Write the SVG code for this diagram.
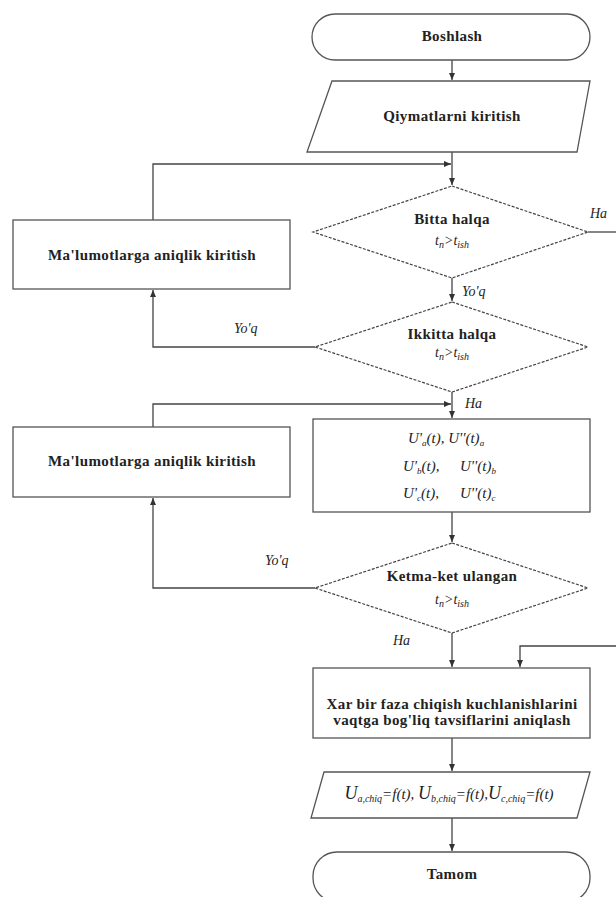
<svg xmlns="http://www.w3.org/2000/svg" width="616" height="897" viewBox="0 0 616 897">
<defs>
<marker id="ah" markerWidth="8" markerHeight="8" refX="7" refY="4" orient="auto" markerUnits="userSpaceOnUse">
<path d="M0,1 L7,4 L0,7 Z" fill="#333"/>
</marker>
<style>
.box{fill:#fff;stroke:#555;stroke-width:1.3}
.dia{fill:#fff;stroke:#444;stroke-width:1.2;stroke-dasharray:3 1.5}
.ln{fill:none;stroke:#444;stroke-width:1.3}
.t{font-family:"Liberation Serif",serif;font-weight:bold;font-size:15px;letter-spacing:0.4px;fill:#222;text-anchor:middle}
.it{font-family:"Liberation Serif",serif;font-style:italic;font-size:14px;fill:#222}
.m{font-family:"Liberation Serif",serif;font-style:italic;font-size:15px;fill:#222}
.c{font-family:"Liberation Serif",serif;font-style:italic;font-size:14px;fill:#222;text-anchor:middle}
</style>
</defs>
<rect width="616" height="897" fill="#fff"/>

<g id="connectors">
<path class="ln" d="M452,60 V80" marker-end="url(#ah)"/>
<path class="ln" d="M452,152 V185" marker-end="url(#ah)"/>
<path class="ln" d="M153,220 V164 H451" marker-end="url(#ah)"/>
<path class="ln" d="M452,278 V301" marker-end="url(#ah)"/>
<path class="ln" d="M588,232 H616"/>
<path class="ln" d="M315,347 H153 V290" marker-end="url(#ah)"/>
<path class="ln" d="M452,392 V418" marker-end="url(#ah)"/>
<path class="ln" d="M153,427 V404 H451" marker-end="url(#ah)"/>
<path class="ln" d="M452,512 V542" marker-end="url(#ah)"/>
<path class="ln" d="M315,588 H153 V498" marker-end="url(#ah)"/>
<path class="ln" d="M452,633 V667" marker-end="url(#ah)"/>
<path class="ln" d="M616,646 H520 V667" marker-end="url(#ah)"/>
<path class="ln" d="M452,738 V771" marker-end="url(#ah)"/>
<path class="ln" d="M452,818 V851" marker-end="url(#ah)"/>
<text class="it" x="590" y="218">Ha</text>
<text class="it" x="462" y="296">Yo'q</text>
<text class="it" x="234" y="333">Yo'q</text>
<text class="it" x="465" y="408">Ha</text>
<text class="it" x="265" y="565">Yo'q</text>
<text class="it" x="393" y="645">Ha</text>
</g>

<g id="start">
<rect class="box" x="312" y="14" width="278" height="46" rx="23"/>
<text class="t" x="452" y="41">Boshlash</text>
</g>

<g id="input">
<polygon class="box" points="332,81 590,81 577,152 307,152"/>
<text class="t" x="452" y="121">Qiymatlarni kiritish</text>
</g>

<g id="cond1">
<polygon class="dia" points="452,186 588,232 452,278 313,232"/>
<text class="t" x="452" y="224">Bitta halqa</text>
<text class="c" x="452" y="245">t<tspan font-size="10" dy="3">n</tspan><tspan dy="-3">&gt;t</tspan><tspan font-size="10" dy="3">ish</tspan></text>
</g>

<g id="fix1">
<rect class="box" x="13" y="220" width="277" height="69"/>
<text class="t" x="152" y="260">Ma'lumotlarga aniqlik kiritish</text>
</g>

<g id="cond2">
<polygon class="dia" points="452,302 588,347 452,392 315,347"/>
<text class="t" x="452" y="339">Ikkitta halqa</text>
<text class="c" x="452" y="357">t<tspan font-size="10" dy="3">n</tspan><tspan dy="-3">&gt;t</tspan><tspan font-size="10" dy="3">ish</tspan></text>
</g>

<g id="values">
<rect class="box" x="313" y="419" width="277" height="93"/>
<text class="m" x="408" y="443">U'<tspan font-size="9" dy="3">a</tspan><tspan dy="-3">(t), U''(t)</tspan><tspan font-size="9" dy="3">a</tspan></text>
<text class="m" x="403" y="471">U'<tspan font-size="9" dy="3">b</tspan><tspan dy="-3">(t),</tspan></text>
<text class="m" x="460" y="471">U''(t)<tspan font-size="9" dy="3">b</tspan></text>
<text class="m" x="403" y="498">U'<tspan font-size="9" dy="3">c</tspan><tspan dy="-3">(t),</tspan></text>
<text class="m" x="460" y="498">U''(t)<tspan font-size="9" dy="3">c</tspan></text>
</g>

<g id="fix2">
<rect class="box" x="13" y="427" width="277" height="70"/>
<text class="t" x="152" y="466">Ma'lumotlarga aniqlik kiritish</text>
</g>

<g id="cond3">
<polygon class="dia" points="452,543 588,588 452,633 315,588"/>
<text class="t" x="452" y="581">Ketma-ket ulangan</text>
<text class="c" x="452" y="604">t<tspan font-size="10" dy="3">n</tspan><tspan dy="-3">&gt;t</tspan><tspan font-size="10" dy="3">ish</tspan></text>
</g>

<g id="process">
<rect class="box" x="313" y="668" width="277" height="70"/>
<text class="t" x="452" y="709">Xar bir faza chiqish kuchlanishlarini</text>
<text class="t" x="452" y="725">vaqtga bog'liq tavsiflarini aniqlash</text>
</g>

<g id="output">
<polygon class="box" points="324,772 590,772 577,818 311,818"/>
<text class="m" x="449" y="799" text-anchor="middle" font-size="16"><tspan font-size="18">U</tspan><tspan font-size="10" dy="3">a,chiq</tspan><tspan dy="-3">=f(t), </tspan><tspan font-size="18">U</tspan><tspan font-size="10" dy="3">b,chiq</tspan><tspan dy="-3">=f(t),</tspan><tspan font-size="18">U</tspan><tspan font-size="10" dy="3">c,chiq</tspan><tspan dy="-3">=f(t)</tspan></text>
</g>

<g id="end">
<rect class="box" x="313" y="852" width="277" height="50" rx="24"/>
<text class="t" x="452" y="879">Tamom</text>
</g>
</svg>
